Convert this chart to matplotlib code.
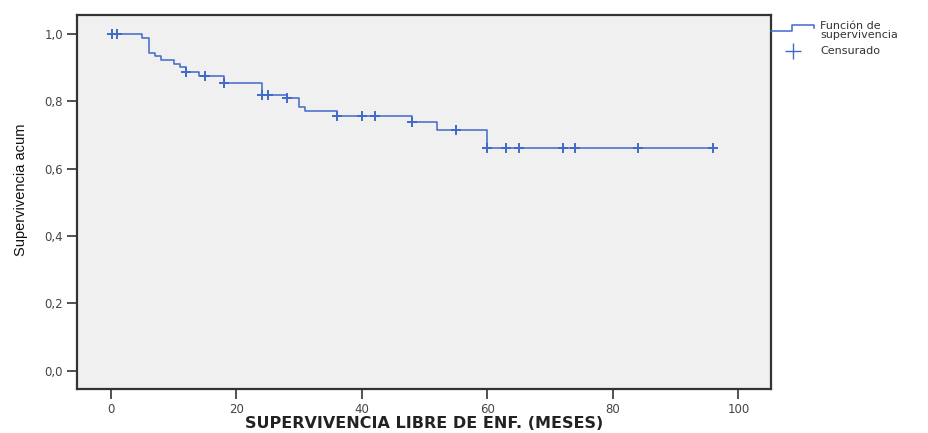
import numpy as np
import matplotlib
matplotlib.use("Agg")
import matplotlib.pyplot as plt
from matplotlib.lines import Line2D
from matplotlib.legend_handler import HandlerBase
from matplotlib.ticker import FuncFormatter

# Kaplan-Meier curve: event times (months) and cumulative survival after each step
times = [0, 5, 6, 7, 8, 10, 11, 12, 14, 18, 24, 28, 30, 31, 36, 48, 52, 60, 96]
surv = [1.0, 0.989, 0.942, 0.933, 0.924, 0.912, 0.902, 0.887, 0.874, 0.854,
        0.820, 0.810, 0.783, 0.770, 0.757, 0.737, 0.715, 0.661, 0.661]

# censored observations (months)
censored = [0.1, 1, 12, 15, 18, 24, 25, 28, 36, 40, 42, 48, 55, 60,
            63, 65, 72, 74, 84, 96]

xticks = [0, 20, 40, 60, 80, 100]
yticks = [0.0, 0.2, 0.4, 0.6, 0.8, 1.0]

blue = "#4169c8"


class StepHandler(HandlerBase):
    # little step-shaped sample for the survival function entry
    def create_artists(self, legend, orig_handle, xdescent, ydescent,
                       width, height, fontsize, trans):
        x0 = -xdescent
        lo = -ydescent + 0.4 * height
        hi = lo + 0.8 * height
        xs = [x0, x0 + 0.48 * width, x0 + 0.48 * width, x0 + width, x0 + width]
        ys = [lo, lo, hi, hi, hi - 0.35 * height]
        line = Line2D(xs, ys, color=blue, lw=1.1)
        line.set_transform(trans)
        return [line]


fig = plt.figure(figsize=(9.29, 4.33), dpi=100)
ax = fig.add_axes([0.083, 0.102, 0.747, 0.864])
ax.set_facecolor("#f0f0f0")

ax.step(times, surv, where="post", color=blue, lw=1.1, zorder=3)

idx = np.searchsorted(times, censored, side="right") - 1
cens_y = np.array(surv)[idx]
ax.plot(censored, cens_y, linestyle="none", marker="+", ms=7.5, mew=1.4,
        color=blue, zorder=4)

ax.set_xlim(-5.4, 105.2)
ax.set_ylim(-0.054, 1.057)
ax.set_xticks(xticks)
ax.set_yticks(yticks)
ax.yaxis.set_major_formatter(FuncFormatter(lambda v, p: f"{v:.1f}".replace(".", ",")))
ax.tick_params(axis="both", length=7, width=1.2, color="#333333",
               labelsize=8.5, labelcolor="#444444", pad=3)

for s in ax.spines.values():
    s.set_color("#333333")
    s.set_linewidth(1.6)

ax.set_xlabel("SUPERVIVENCIA LIBRE DE ENF. (MESES)", fontsize=11.5,
              fontweight="bold", color="#222222", labelpad=0)
ax.set_ylabel("Supervivencia acum",
              family=["Liberation Sans Narrow", "Liberation Sans", "DejaVu Sans"],
              fontsize=10.5, color="#111111")
ax.yaxis.set_label_coords(-0.071, 0.532)

step_handle = Line2D([], [], color=blue)
cens_handle = Line2D([], [], linestyle="none", marker="+", ms=12, mew=1.0,
                     color=blue)
leg = ax.legend([step_handle, cens_handle],
                ["Función de\nsupervivencia", "Censurado"],
                handler_map={step_handle: StepHandler()},
                loc="upper left", bbox_to_anchor=(1.0, 0.984),
                frameon=False, fontsize=8, handlelength=3.9,
                handletextpad=0.5, borderaxespad=0, borderpad=0,
                labelspacing=0.55, labelcolor="#333333")
for t in leg.get_texts():
    t.set_linespacing(0.95)

fig.savefig("out.png", dpi=100)
